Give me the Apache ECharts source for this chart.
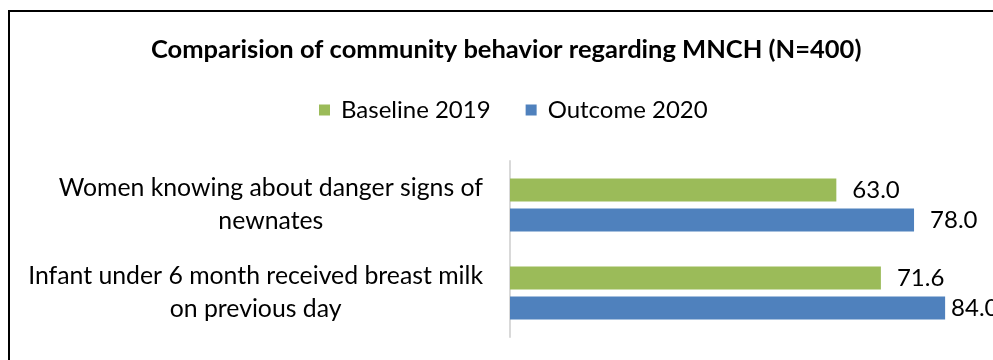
<!DOCTYPE html>
<html>
<head>
<meta charset="utf-8">
<script src="https://cdn.jsdelivr.net/npm/echarts@6/dist/echarts.min.js"></script>
<style>
  html, body { margin: 0; padding: 0; background: #fff; }
  #chart { width: 993px; height: 360px; }
</style>
</head>
<body>
<div id="chart"></div>
<script>
// Community MNCH behaviour indicators, percent of respondents (N=400)
const categories = [
  'Women knowing about danger signs of\nnewnates',
  'Infant under 6 month received breast milk\non previous day'
];
const baseline2019 = [63.0, 71.6];
const outcome2020 = [78.0, 84.0];
const seriesNames = ['Baseline 2019', 'Outcome 2020'];

const FONT = 'Lato, "Open Sans", sans-serif';
const chart = echarts.init(document.getElementById('chart'), null, { renderer: 'canvas' });

const labelStyle = {
  show: true,
  position: 'right',
  distance: 16,
  color: '#000',
  fontFamily: FONT,
  fontSize: 24,
  formatter: p => p.value.toFixed(1)
};

// bars reaching the right edge get their label tucked closer in
const withLabelFit = values => values.map(v => (v > 80 ? { value: v, label: { distance: 6 } } : v));

chart.setOption({
  animation: false,
  backgroundColor: '#fff',
  graphic: [{
    type: 'rect',
    shape: { x: 9, y: 11, width: 1100, height: 500 },
    style: { fill: 'none', stroke: '#000', lineWidth: 2 },
    silent: true
  }],
  title: {
    text: 'Comparision of community behavior regarding MNCH (N=400)',
    left: 146,
    top: 32,
    textStyle: { fontFamily: FONT, fontWeight: 'bold', fontSize: 25.5, color: '#000' }
  },
  legend: {
    data: seriesNames,
    left: 314,
    top: 93,
    icon: 'rect',
    itemWidth: 11,
    itemHeight: 11,
    itemGap: 35,
    textStyle: { fontFamily: FONT, fontSize: 24, color: '#000', padding: [0, 0, 0, 6] }
  },
  grid: { left: 510, top: 161, width: 518, height: 176, outerBoundsMode: 'none' },
  xAxis: {
    type: 'value',
    min: 0,
    max: 100,
    show: false
  },
  yAxis: {
    type: 'category',
    data: categories,
    inverse: true,
    axisLine: { show: true, lineStyle: { color: '#d9d9d9', width: 2 } },
    axisTick: { show: false },
    axisLabel: {
      margin: 27,
      align: 'right',
      color: '#000',
      fontFamily: FONT,
      fontSize: 24.8,
      lineHeight: 33,
      formatter: v => v.split('\n').map(s => '{c|' + s + '}').join('\n'),
      rich: { c: { align: 'center', fontFamily: FONT, fontSize: 24.8, lineHeight: 33, color: '#000' } }
    }
  },
  series: [
    {
      name: seriesNames[0],
      type: 'bar',
      data: withLabelFit(baseline2019),
      barWidth: 23,
      barGap: '30%',
      itemStyle: { color: '#9BBB59' },
      label: labelStyle
    },
    {
      name: seriesNames[1],
      type: 'bar',
      data: withLabelFit(outcome2020),
      barWidth: 23,
      barGap: '30%',
      itemStyle: { color: '#4F81BD' },
      label: labelStyle
    }
  ]
});
</script>
</body>
</html>
